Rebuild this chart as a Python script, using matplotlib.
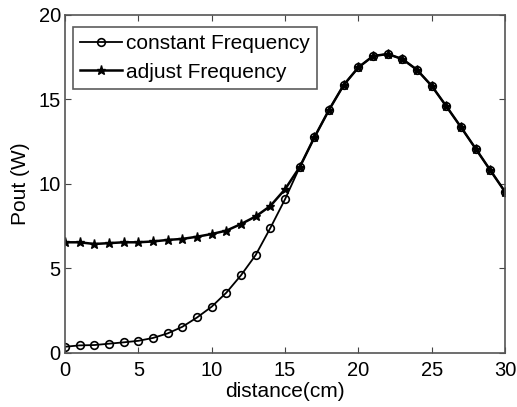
import matplotlib
matplotlib.use("Agg")
import matplotlib.pyplot as plt

distance = list(range(0, 31))
constant_freq = [0.37, 0.45, 0.47, 0.55, 0.63, 0.72, 0.89, 1.16, 1.55, 2.1, 2.74,
                 3.57, 4.6, 5.8, 7.4, 9.1, 11.0, 12.76, 14.39, 15.86, 16.9,
                 17.57, 17.69, 17.39, 16.75, 15.8, 14.59, 13.35, 12.08, 10.8, 9.53]
adjust_freq = [6.55, 6.55, 6.45, 6.5, 6.55, 6.55, 6.6, 6.69, 6.75, 6.88, 7.04,
               7.24, 7.63, 8.08, 8.7, 9.69, 11.0, 12.76, 14.39, 15.86, 16.9,
               17.57, 17.69, 17.39, 16.75, 15.8, 14.59, 13.35, 12.08, 10.8, 9.53]
xticks = [0, 5, 10, 15, 20, 25, 30]
yticks = [0, 5, 10, 15, 20]

plt.rcParams['font.family'] = ['Liberation Sans', 'DejaVu Sans']

fig = plt.figure(figsize=(5.17, 4.07), dpi=100)
ax = fig.add_axes([0.1257, 0.1327, 0.8513, 0.8305])

ax.plot(distance, constant_freq, color='black', lw=1.3, marker='o', markersize=5.5,
        markerfacecolor='none', markeredgewidth=1.2, label='constant Frequency')
ax.plot(distance, adjust_freq, color='black', lw=1.8, marker='*', markersize=6.5,
        markerfacecolor='black', markeredgewidth=1.0, label='adjust Frequency')

ax.set_xlim(0, 30)
ax.set_ylim(0, 20)
ax.set_xticks(xticks)
ax.set_yticks(yticks)
ax.tick_params(axis='both', direction='in', top=True, right=True, labelsize=14.5,
               length=4, color='#444444')
ax.tick_params(axis='x', pad=6)
ax.tick_params(axis='y', pad=3)
for s in ax.spines.values():
    s.set_color('#555555')
    s.set_linewidth(1.2)

ax.set_xlabel('distance(cm)', fontsize=15, labelpad=1)
ax.set_ylabel('Pout (W)', fontsize=15, labelpad=6)

leg = ax.legend(loc='upper left', bbox_to_anchor=(73 / 517, 1 - 27 / 407),
                bbox_transform=fig.transFigure, fontsize=15, frameon=True,
                fancybox=False, edgecolor='#333333', handlelength=2.0,
                handletextpad=0.2, borderaxespad=0.0, borderpad=0.35,
                labelspacing=0.45)
leg.get_frame().set_linewidth(1.2)

fig.savefig('out.png', dpi=100)
